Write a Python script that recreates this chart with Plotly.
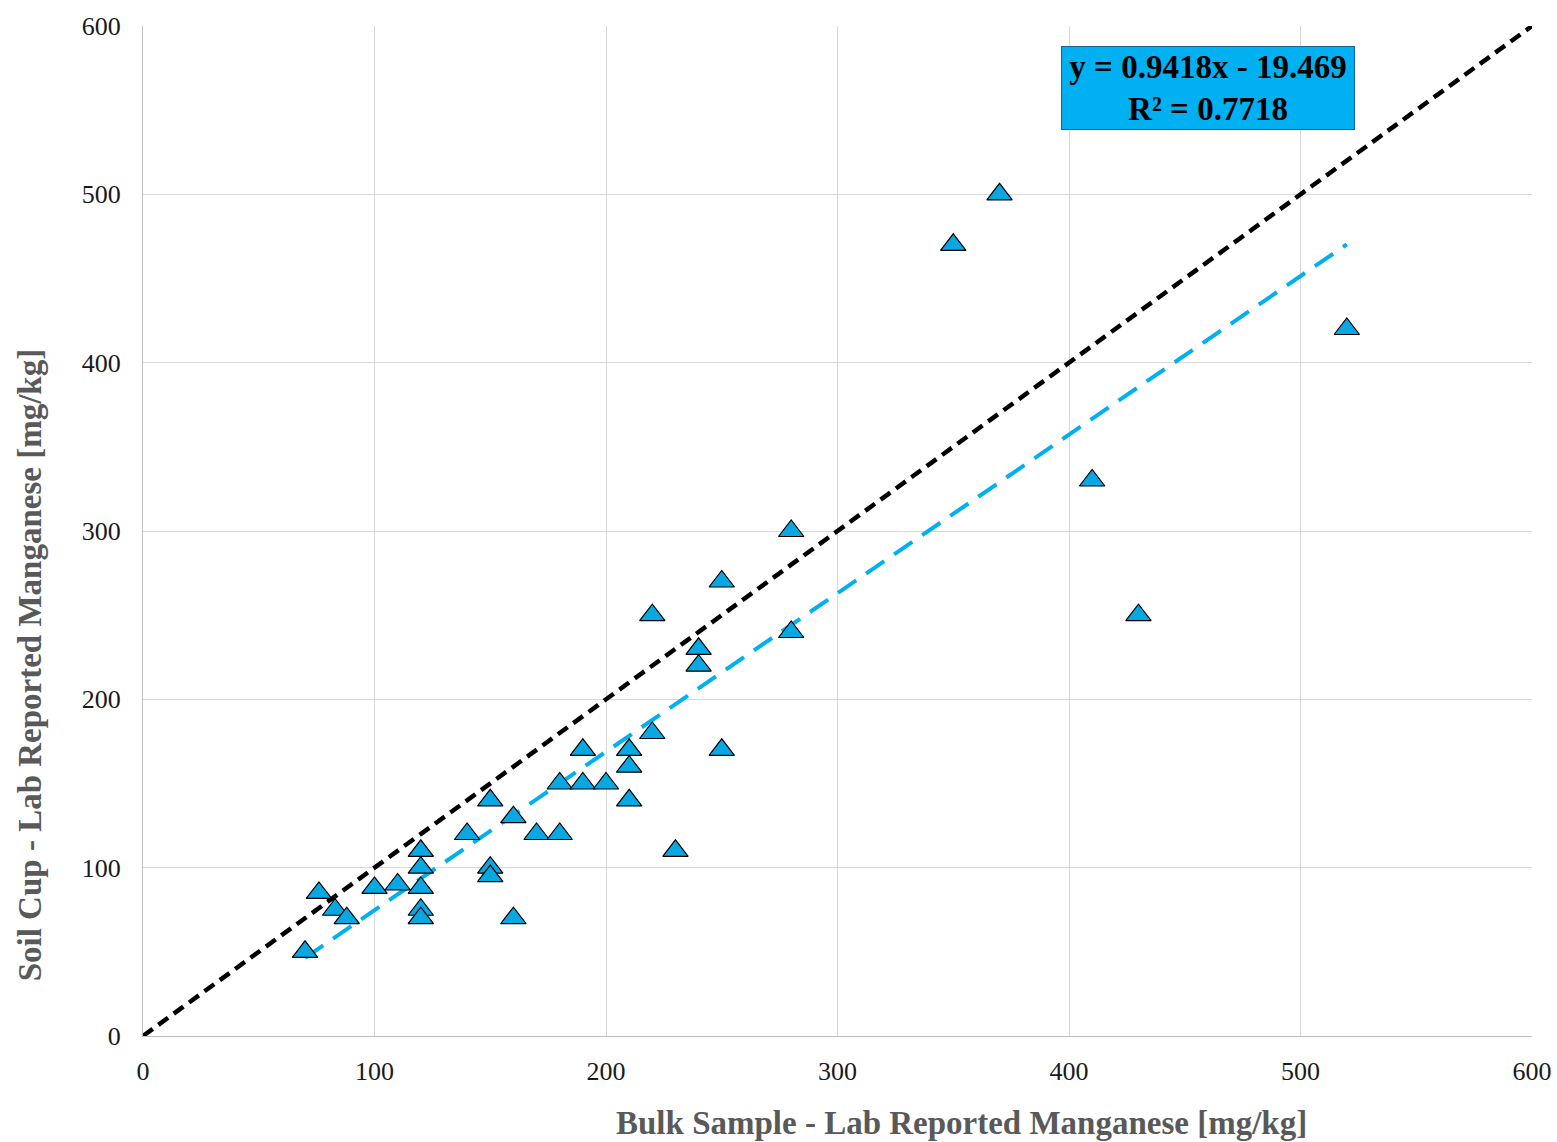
import plotly.graph_objects as go

# Bulk sample vs soil cup manganese results [mg/kg]
bulk_mn = [70, 76, 83, 88, 100, 110, 120, 120, 120, 120, 120, 140, 150, 150, 150,
           160, 160, 170, 180, 180, 190, 190, 200, 210, 210, 210, 220, 220, 230,
           240, 240, 250, 250, 280, 280, 350, 370, 410, 430, 520]
cup_mn = [50, 85, 75, 70, 88, 90, 110, 100, 88, 75, 70, 120, 140, 100, 95,
          130, 70, 120, 120, 150, 170, 150, 150, 170, 160, 140, 250, 180, 110,
          230, 220, 270, 170, 300, 240, 470, 500, 330, 250, 420]

slope = 0.9418
intercept = -19.469
r_squared = 0.7718

one_to_one = [0, 600]
trend_x = [min(bulk_mn), max(bulk_mn)]
trend_y = [slope * v + intercept for v in trend_x]

SERIF = "Liberation Serif"

fig = go.Figure()

# 1:1 reference line
fig.add_trace(go.Scatter(
    x=one_to_one, y=one_to_one, mode="lines",
    line=dict(color="black", width=4.5, dash="12px,7px"),
    hoverinfo="skip", showlegend=False))

# linear trendline
fig.add_trace(go.Scatter(
    x=trend_x, y=trend_y, mode="lines",
    line=dict(color="#00B0F0", width=4, dash="22px,12px"),
    hoverinfo="skip", showlegend=False))

fig.add_trace(go.Scatter(
    x=bulk_mn, y=cup_mn, mode="markers",
    marker=dict(symbol="triangle-up", size=22, color="#0AA8E2",
                line=dict(color="black", width=1.2)),
    showlegend=False))

# regression equation box
fig.add_annotation(
    x=460, y=563, xref="x", yref="y",
    text=f"y = {slope}x - {abs(intercept)}<br>R² = {r_squared}",
    showarrow=False, width=292, height=82,
    font=dict(family=SERIF, size=33, color="black", weight="bold"),
    bgcolor="#00B0F0", bordercolor="#1F5F8F", borderwidth=1, borderpad=0,
    align="center", valign="middle")

# axis titles
title_font = dict(family=SERIF, size=33, color="#595959", weight="bold")
fig.add_annotation(
    text="Bulk Sample - Lab Reported Manganese [mg/kg]",
    xref="paper", yref="paper", x=0.5896, y=0, yshift=-87,
    xanchor="center", yanchor="middle", showarrow=False, font=title_font)
fig.add_annotation(
    text="Soil Cup - Lab Reported Manganese [mg/kg]",
    xref="paper", yref="paper", x=0, y=0.367, xshift=-113, textangle=-90,
    xanchor="center", yanchor="middle", showarrow=False, font=title_font)

axis_common = dict(
    range=[0, 600], dtick=100, showgrid=True, gridcolor="#D9D9D9", gridwidth=1,
    zeroline=False, showline=True, linecolor="#BFBFBF", linewidth=1,
    ticks="", automargin=False,
    tickfont=dict(family=SERIF, size=26, color="#1a1a1a"),
)

fig.update_layout(
    width=1557, height=1142,
    margin=dict(l=143, r=25, t=26, b=106),
    paper_bgcolor="white", plot_bgcolor="white",
    xaxis=dict(**axis_common, ticklabelstandoff=12),
    yaxis=dict(**axis_common, ticklabelstandoff=16),
)

fig.write_html("out.html")
